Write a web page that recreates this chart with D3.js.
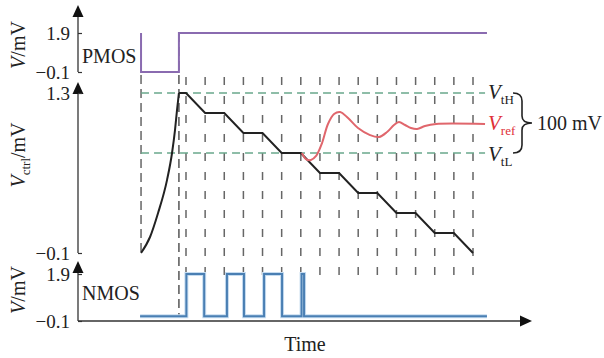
<!DOCTYPE html>
<html>
<head>
<meta charset="UTF-8" />
<title>PMOS / NMOS timing</title>
<script src="https://d3js.org/d3.v7.min.js"></script>
<style>
  body { margin: 0; background: #fff; }
  svg text { font-family: "Liberation Serif", "Times New Roman", serif; fill: #222; }
</style>
</head>
<body>
<div id="chart"></div>
<script>
// time in clock steps (grid line k at t = k)
const gridTimes = [0, 1, 2, 3, 4, 5, 6, 7, 8, 9, 10, 11, 12, 13, 14, 15];
const tStart = -2.35, tSwitch = -0.37, tEnd = 15.73;

// PMOS gate
const pmosT = [-2.35, -2.35, -0.37, 15.73];
const pmosV = [1.9, -0.1, 1.9, 1.9];

// NMOS gate
const nmosT = [-2.4, 0.02, 0.95, 2.14, 3.03, 4.08, 5.02, 6.04, 6.17, 15.73];
const nmosV = [0.1, 1.9, 0.1, 1.9, 0.1, 1.9, 0.1, 1.9, 0.1, 0.1];

// Vctrl : charging then staircase
const chargeT = [-2.35, -1.88, -1.46, -0.99, -0.73, -0.575, -0.47, -0.37];
const chargeV = [-0.1, 0.04, 0.25, 0.54, 0.775, 0.976, 1.151, 1.3];
const stairT = [-0.37, 0, 1, 2, 3, 4, 5, 6, 7, 8, 9, 10, 11, 12, 13, 14, 15];
const stairV = [1.3, 1.3, 1.125, 1.125, 0.95, 0.95, 0.775, 0.775, 0.6, 0.6, 0.425, 0.425, 0.25, 0.25, 0.075, 0.075, -0.1];

// Vref
const refT = [6.06, 6.27, 6.53, 6.8, 7.11, 7.42, 7.74, 8.05, 8.47, 8.99, 9.62, 10.09, 10.51, 10.87, 11.13, 11.45, 11.76, 12.08, 12.49, 13.07, 15.63];
const refV = [0.775, 0.722, 0.714, 0.749, 0.862, 1.029, 1.116, 1.134, 1.081, 0.994, 0.932, 0.915, 0.959, 1.02, 1.046, 1.02, 0.994, 0.985, 1.011, 1.029, 1.029];

// thresholds
const vtH = 1.3, vtL = 0.775;
const thrT = [-2.35, 15.63];

const topTicks = [-0.1, 1.9], midTicks = [-0.1, 1.3], botTicks = [-0.1, 1.9];

const W = 604, H = 358;
const svg = d3.select("#chart").append("svg").attr("width", W).attr("height", H);

const x = d3.scaleLinear().domain([0, 15]).range([186, 473]);
const yTop = d3.scaleLinear().domain([-0.1, 1.9]).range([72, 33]);
const yMid = d3.scaleLinear().domain([-0.1, 1.3]).range([253, 93]);
const yBot = d3.scaleLinear().domain([-0.1, 1.9]).range([321, 274]);

const axX = 78;
const fmt = d3.format(".1f");

// vertical dashed grid
svg.selectAll(".grid").data(gridTimes).enter().append("line")
  .attr("x1", d => x(d)).attr("x2", d => x(d))
  .attr("y1", 77).attr("y2", 280)
  .attr("stroke", "#666").attr("stroke-width", 1.5)
  .attr("stroke-dasharray", "8,11");

// start line and switch line
svg.append("line")
  .attr("x1", x(tStart)).attr("x2", x(tStart))
  .attr("y1", yTop(-0.1) + 3).attr("y2", yMid(-0.1))
  .attr("stroke", "#666").attr("stroke-width", 1.5).attr("stroke-dasharray", "9,5");
svg.append("line")
  .attr("x1", x(tSwitch)).attr("x2", x(tSwitch))
  .attr("y1", yTop(1.9)).attr("y2", yBot(-0.1) - 4)
  .attr("stroke", "#555").attr("stroke-width", 1.5).attr("stroke-dasharray", "9,5");

// threshold lines
[vtH, vtL].forEach(v => {
  svg.append("path")
    .datum(thrT)
    .attr("d", d3.line().x(d => x(d)).y(() => yMid(v)))
    .attr("fill", "none").attr("stroke", "#6aa88c").attr("stroke-width", 1.6)
    .attr("stroke-dasharray", "8,5");
});

// axes
function arrowUp(tipY) {
  svg.append("path")
    .attr("d", `M${axX},${tipY} L${axX - 5.5},${tipY + 12} L${axX + 5.5},${tipY + 12} Z`)
    .attr("fill", "#111");
}
function vAxis(scale, ticks, tipY, bottomY) {
  svg.append("line").attr("x1", axX).attr("x2", axX)
    .attr("y1", tipY + 4).attr("y2", bottomY)
    .attr("stroke", "#333").attr("stroke-width", 1.3);
  arrowUp(tipY);
  const g = svg.append("g").attr("transform", `translate(${axX},0)`)
    .call(d3.axisLeft(scale).tickValues(ticks).tickFormat(fmt).tickSize(-4).tickPadding(8));
  g.select(".domain").remove();
  g.selectAll(".tick line").attr("stroke", "#333").attr("stroke-width", 1.2);
  g.selectAll(".tick text").attr("font-size", 19).attr("fill", "#222")
    .style("font-family", '"Liberation Serif", "Times New Roman", serif');
}
vAxis(yTop, topTicks, 5, yTop(-0.1));
vAxis(yMid, midTicks, 82, yMid(-0.1));
vAxis(yBot, botTicks, 261, yBot(-0.1));

// time axis
svg.append("line").attr("x1", axX).attr("x2", 524)
  .attr("y1", yBot(-0.1)).attr("y2", yBot(-0.1))
  .attr("stroke", "#333").attr("stroke-width", 1.3);
svg.append("path")
  .attr("d", `M532,${yBot(-0.1)} L520,${yBot(-0.1) - 5.5} L520,${yBot(-0.1) + 5.5} Z`)
  .attr("fill", "#111");

// signals
svg.append("path")
  .datum(d3.zip(pmosT, pmosV))
  .attr("d", d3.line().x(d => x(d[0])).y(d => yTop(d[1])).curve(d3.curveStepAfter))
  .attr("fill", "none").attr("stroke", "#8a6bb0").attr("stroke-width", 2);

svg.append("path")
  .datum(d3.zip(nmosT, nmosV))
  .attr("d", d3.line().x(d => x(d[0])).y(d => yBot(d[1])).curve(d3.curveStepAfter))
  .attr("fill", "none").attr("stroke", "#c6dcf0").attr("stroke-width", 4);
svg.append("path")
  .datum(d3.zip(nmosT, nmosV))
  .attr("d", d3.line().x(d => x(d[0])).y(d => yBot(d[1])).curve(d3.curveStepAfter))
  .attr("fill", "none").attr("stroke", "#4a7fb3").attr("stroke-width", 2);

svg.append("path")
  .datum(d3.zip(chargeT, chargeV))
  .attr("d", d3.line().x(d => x(d[0])).y(d => yMid(d[1])).curve(d3.curveMonotoneX))
  .attr("fill", "none").attr("stroke", "#222").attr("stroke-width", 2);
svg.append("path")
  .datum(d3.zip(stairT, stairV))
  .attr("d", d3.line().x(d => x(d[0])).y(d => yMid(d[1])))
  .attr("fill", "none").attr("stroke", "#222").attr("stroke-width", 2);

svg.append("path")
  .datum(d3.zip(refT, refV))
  .attr("d", d3.line().x(d => x(d[0])).y(d => yMid(d[1])).curve(d3.curveCatmullRom))
  .attr("fill", "none").attr("stroke", "#e0666c").attr("stroke-width", 2);

// labels
function sub(el, main, subTxt, color, size, subSize) {
  el.append("tspan").attr("font-style", "italic").attr("font-size", size).attr("fill", color).text(main);
  el.append("tspan").attr("font-size", subSize).attr("dy", 5).attr("fill", color).text(subTxt);
}
sub(svg.append("text").attr("x", 488).attr("y", yMid(vtH) + 6), "V", "tH", "#222", 21, 13);
sub(svg.append("text").attr("x", 488).attr("y", yMid(refV[refV.length - 1]) + 6), "V", "ref", "#e03038", 21, 13);
sub(svg.append("text").attr("x", 488).attr("y", yMid(vtL) + 8), "V", "tL", "#222", 21, 13);

svg.append("path")
  .attr("d", "M513,93 Q522,93 522,101 L522,116 Q522,123 532,123 Q522,123 522,130 L522,145 Q522,153 513,153")
  .attr("fill", "none").attr("stroke", "#222").attr("stroke-width", 1.6);
svg.append("text").attr("x", 537).attr("y", 130).attr("font-size", 20).text("100 mV");

svg.append("text").attr("x", 82).attr("y", 63).attr("font-size", 20).text("PMOS");
svg.append("text").attr("x", 82).attr("y", 300).attr("font-size", 20).text("NMOS");
svg.append("text").attr("x", 305).attr("y", 351).attr("text-anchor", "middle").attr("font-size", 20).text("Time");

function yLabel(cy, subTxt) {
  const t = svg.append("text")
    .attr("transform", `translate(25,${cy}) rotate(-90)`)
    .attr("text-anchor", "middle").attr("font-size", 20);
  t.append("tspan").attr("font-style", "italic").text("V");
  if (subTxt) {
    t.append("tspan").attr("font-size", 13).attr("dy", 5).text(subTxt);
    t.append("tspan").attr("dy", -5).text("/mV");
  } else {
    t.append("tspan").text("/mV");
  }
}
yLabel(45);
yLabel(155, "ctrl");
yLabel(290);
</script>
</body>
</html>
